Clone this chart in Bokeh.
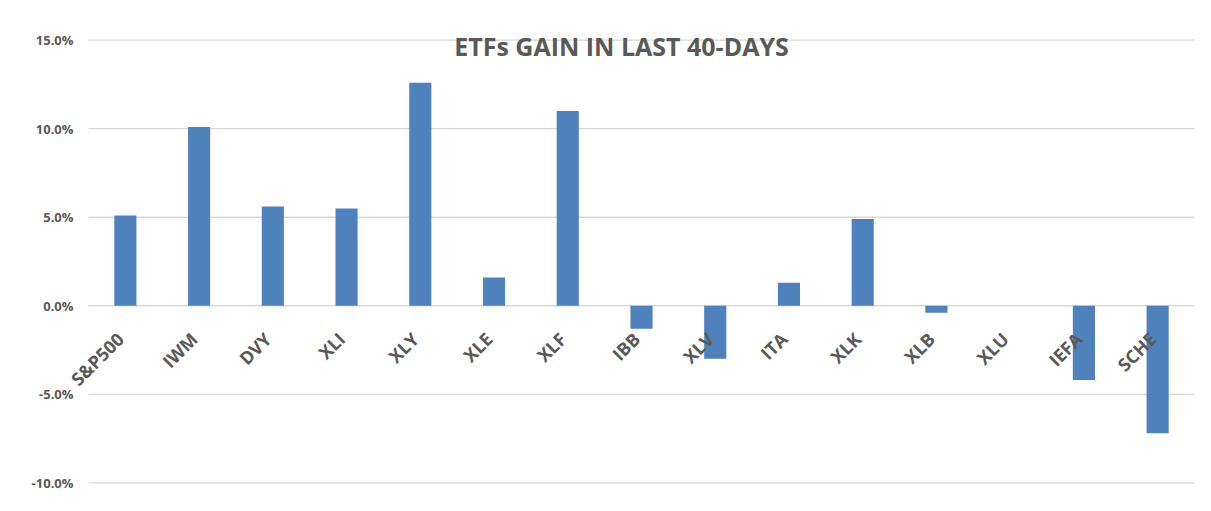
import math
from bokeh.plotting import figure
from bokeh.models import Range1d
from bokeh.core.properties import value
from bokeh.embed import file_html
from bokeh.resources import INLINE

categories = ["S&P500", "IWM", "DVY", "XLI", "XLY", "XLE", "XLF", "IBB", "XLV",
              "ITA", "XLK", "XLB", "XLU", "IEFA", "SCHE"]
gains = [5.1, 10.1, 5.6, 5.5, 12.6, 1.6, 11.0, -1.3, -3.0, 1.3, 4.9, -0.4, 0.0, -4.2, -7.2]
y_ticks = [-10, -5, 0, 5, 10, 15]
title_text = "ETFs GAIN IN LAST 40-DAYS"

TEXT = "#595959"
FONT = "Open Sans"

n = len(categories)
xs = [i + 0.5 for i in range(n)]            # category centres on a numeric scale
tick_labels = [f"{t:.1f}%" for t in y_ticks]

# frame extends beyond the category/value area so edge labels are not clipped
p = figure(width=1211, height=511, x_range=Range1d(-0.8, n),
           y_range=Range1d(y_ticks[0] - 1, y_ticks[-1] + 1),
           output_backend="svg", toolbar_location=None,
           min_border_left=29, min_border_right=17, min_border_top=22, min_border_bottom=11)
p.outline_line_color = None
p.background_fill_color = "white"
p.border_fill_color = "white"
p.xaxis.visible = False
p.yaxis.visible = False
p.xgrid.visible = False
p.ygrid.visible = False

# horizontal gridlines spanning the category area only
p.segment(x0=[0] * len(y_ticks), x1=[n] * len(y_ticks), y0=y_ticks, y1=y_ticks,
          line_color="#d9d9d9", line_width=1.3)

p.vbar(x=xs, top=gains, bottom=0, width=0.3, fill_color="#4f81bd", line_color=None)

# y tick labels
p.text(x=[0] * len(y_ticks), y=y_ticks, text=tick_labels, x_offset=-15,
       text_align="right", text_baseline="middle",
       text_font=value(FONT), text_font_style="bold", text_font_size="13px",
       text_color=TEXT)

# rotated category labels hanging from the zero line
p.text(x=xs, y=[0] * n, text=categories, angle=math.pi / 4,
       text_align="right", text_baseline="middle", x_offset=-5, y_offset=30,
       text_font=value(FONT), text_font_style="bold", text_font_size="18px",
       text_color=TEXT)

# chart title drawn inside the plot area
p.text(x=[n / 2], y=[y_ticks[-1]], text=[title_text], x_offset=-20, y_offset=6,
       text_align="center", text_baseline="middle",
       text_font=value(FONT), text_font_style="bold", text_font_size="25px",
       text_color=TEXT)

open("out.html", "w").write(file_html(p, INLINE))
